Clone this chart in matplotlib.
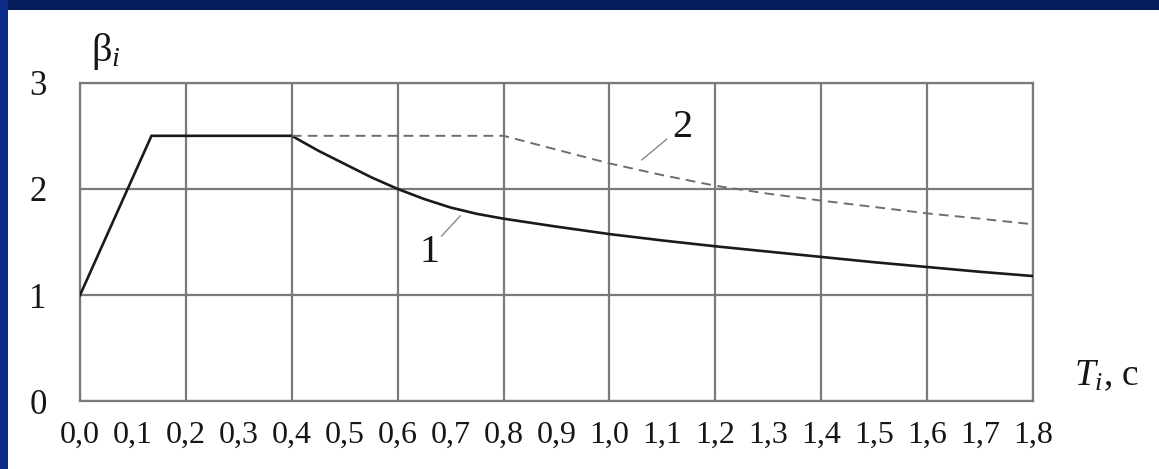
import matplotlib
matplotlib.use("Agg")
import matplotlib.pyplot as plt
from matplotlib.patches import Rectangle
from matplotlib.ticker import FixedLocator, FuncFormatter

# Dynamic coefficient curves beta_i(T_i)
period_1 = [0.0, 0.135, 0.4, 0.45, 0.5, 0.55, 0.6, 0.65, 0.7, 0.75, 0.8,
            0.9, 1.0, 1.1, 1.2, 1.3, 1.4, 1.5, 1.6, 1.7, 1.8]
beta_1 = [1.0, 2.5, 2.5, 2.36, 2.235, 2.11, 2.00, 1.905, 1.825, 1.765, 1.72,
          1.645, 1.575, 1.515, 1.46, 1.41, 1.36, 1.31, 1.265, 1.22, 1.18]

period_2 = [0.4, 0.8, 0.9, 1.0, 1.1, 1.2, 1.3, 1.4, 1.5, 1.6, 1.7, 1.8]
beta_2 = [2.5, 2.5, 2.37, 2.24, 2.13, 2.03, 1.955, 1.89, 1.83, 1.77, 1.72, 1.667]

x_major = [0.0, 0.2, 0.4, 0.6, 0.8, 1.0, 1.2, 1.4, 1.6, 1.8]
x_minor = [0.1, 0.3, 0.5, 0.7, 0.9, 1.1, 1.3, 1.5, 1.7]
y_ticks = [0, 1, 2, 3]

SERIF = "Liberation Serif"
plt.rcParams["font.family"] = [SERIF, "DejaVu Serif"]
plt.rcParams["mathtext.fontset"] = "custom"
plt.rcParams["mathtext.rm"] = SERIF
plt.rcParams["mathtext.it"] = SERIF + ":italic"
plt.rcParams["lines.scale_dashes"] = False

GRID = "#7a7a7a"
INK = "#161616"

fig = plt.figure(figsize=(11.59, 4.69), dpi=100, facecolor="white")

# frame of the slide
fig.patches.append(Rectangle((0, 1 - 10 / 469), 1, 10 / 469, transform=fig.transFigure,
                             facecolor="#071c5a", edgecolor="none", zorder=0))
fig.patches.append(Rectangle((0, 0), 8 / 1159, 1, transform=fig.transFigure,
                             facecolor="#0b2d88", edgecolor="none", zorder=0))

ax = fig.add_axes([80 / 1159, 1 - 401.4 / 469, (1033 - 80) / 1159, (401.4 - 82.7) / 469])
ax.set_xlim(0, 1.8)
ax.set_ylim(0, 3)

ax.xaxis.set_major_locator(FixedLocator(x_major))
ax.xaxis.set_minor_locator(FixedLocator(x_minor))
ax.yaxis.set_major_locator(FixedLocator(y_ticks))
comma = FuncFormatter(lambda v, p: f"{v:.1f}".replace(".", ","))
ax.xaxis.set_major_formatter(comma)
ax.xaxis.set_minor_formatter(comma)

ax.tick_params(axis="x", which="both", length=0, pad=14, labelsize=23, labelcolor=INK)
ax.tick_params(axis="y", which="both", length=0, pad=24, labelsize=25, labelcolor=INK)

ax.grid(True, which="major", color=GRID, linewidth=1.6)
for s in ax.spines.values():
    s.set_color(GRID)
    s.set_linewidth(1.6)

ax.plot(period_1, beta_1, color="#1a1a1a", linewidth=1.9, solid_joinstyle="miter", zorder=3)
ax.plot(period_2, beta_2, color="#6e6e6e", linewidth=1.4,
        dashes=(7, 4.5), dash_capstyle="butt", zorder=3)

# curve labels with leader lines
ax.plot([0.683, 0.718], [1.557, 1.746], color="#8a8a8a", linewidth=1.0, zorder=3)
ax.text(0.661, 1.40, "1", fontsize=29, ha="center", va="center", color=INK)
ax.plot([1.061, 1.108], [2.273, 2.467], color="#8a8a8a", linewidth=1.0, zorder=3)
ax.text(1.137, 2.58, "2", fontsize=29, ha="center", va="center", color=INK)

# axis captions
fig.text(91 / 1159, 1 - 52 / 469, r"$\mathrm{\beta}_{i}$", fontsize=29,
         ha="left", va="center", color=INK)
fig.text(1074 / 1159, 1 - 376 / 469, r"$T_{i}$, c", fontsize=27,
         ha="left", va="center", color=INK)

fig.savefig("out.png", dpi=100, facecolor="white")
